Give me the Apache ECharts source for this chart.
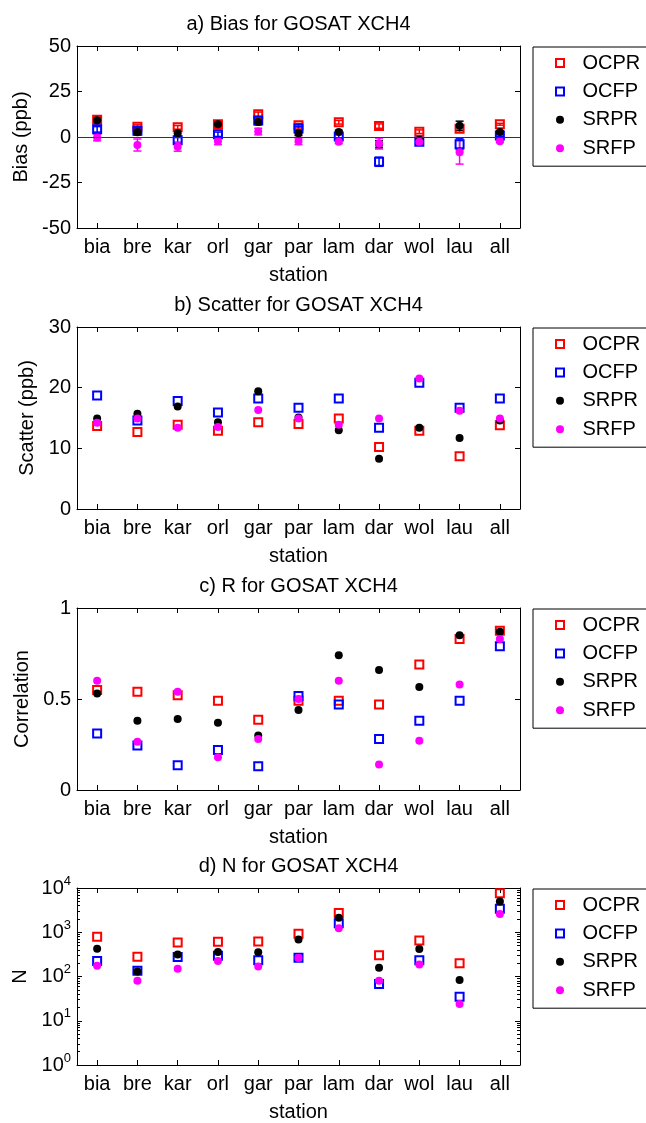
<!DOCTYPE html>
<html>
<head>
<meta charset="utf-8">
<script src="https://cdn.jsdelivr.net/npm/echarts@6/dist/echarts.min.js"></script>
<style>
html,body{margin:0;padding:0;background:#fff;}
#chart{width:646px;height:1123px;}
</style>
</head>
<body>
<div id="chart"></div>
<script>
// ---- data ----
const stations = ['bia','bre','kar','orl','gar','par','lam','dar','wol','lau','all'];
const seriesNames = ['OCPR','OCFP','SRPR','SRFP'];

// a) Bias (ppb)
const biasOCPR = [9.5, 5.7, 5.3, 7.0, 12.5, 6.4, 8.1, 6.0, 2.9, 4.6, 7.0];
const biasOCFP = [4.2, 3.5, -1.8, 1.5, 9.0, 4.7, 0.3, -13.6, -2.6, -4.0, 0.8];
const biasSRPR = [9.2, 2.6, 2.0, 7.0, 8.2, 2.0, 2.7, -4.0, -1.5, 6.2, 2.8];
const biasSRFP = [-0.3, -4.4, -5.3, -2.4, 3.0, -2.4, -2.6, -3.6, -2.6, -8.4, -2.4];
const errOCPR = [1.2, 1.0, 1.0, 1.0, 1.2, 1.0, 1.0, 1.2, 1.0, 2.0, 0.5];
const errOCFP = [1.5, 1.5, 1.5, 1.2, 1.5, 1.2, 1.0, 2.5, 1.2, 3.0, 0.5];
const errSRPR = [1.5, 1.5, 1.5, 1.2, 1.5, 1.2, 1.0, 2.0, 1.2, 2.5, 0.5];
const errSRFP = [1.8, 3.3, 2.5, 1.8, 1.8, 1.8, 1.0, 3.0, 1.5, 6.5, 0.6];

// b) Scatter (ppb)
const scatOCPR = [13.7, 12.7, 13.9, 12.9, 14.3, 14.0, 14.9, 10.2, 12.9, 8.7, 13.8];
const scatOCFP = [18.7, 14.6, 17.8, 15.9, 18.2, 16.7, 18.2, 13.4, 20.8, 16.7, 18.2];
const scatSRPR = [14.9, 15.7, 16.9, 14.3, 19.4, 15.1, 13.0, 8.3, 13.4, 11.7, 14.6];
const scatSRFP = [14.2, 14.9, 13.4, 13.5, 16.3, 14.9, 13.9, 14.9, 21.5, 16.2, 14.9];

// c) Correlation
const corOCPR = [0.55, 0.54, 0.52, 0.49, 0.386, 0.49, 0.49, 0.47, 0.69, 0.83, 0.875];
const corOCFP = [0.31, 0.245, 0.136, 0.22, 0.13, 0.517, 0.47, 0.28, 0.38, 0.49, 0.79];
const corSRPR = [0.53, 0.38, 0.39, 0.37, 0.30, 0.44, 0.74, 0.66, 0.566, 0.85, 0.87];
const corSRFP = [0.60, 0.265, 0.54, 0.18, 0.28, 0.50, 0.60, 0.14, 0.27, 0.58, 0.83];

// d) N
const nOCPR = [795, 280, 585, 607, 620, 930, 2740, 303, 648, 200, 7600];
const nOCFP = [224, 135, 275, 295, 233, 266, 1590, 68, 233, 35, 3390];
const nSRPR = [426, 129, 316, 360, 355, 686, 2130, 158, 420, 83, 4950];
const nSRFP = [174, 80, 150, 224, 169, 262, 1230, 80, 186, 24, 2600];

const logTicks = ['10^0','10^1','10^2','10^3','10^4'];

const panelTitles = ['a) Bias for GOSAT XCH4','b) Scatter for GOSAT XCH4','c) R for GOSAT XCH4','d) N for GOSAT XCH4'];
const yNames = ['Bias (ppb)','Scatter (ppb)','Correlation','N'];
const xName = 'station';

// ---- styling ----
const FONT = 'Liberation Sans, Arial, Helvetica, sans-serif';
const colors = {OCPR:'#ff0000', OCFP:'#0000ff', SRPR:'#000000', SRFP:'#ff00ff'};
const gridTops = [46, 327, 608, 888];
const GRID_LEFT = 77, GRID_W = 443, GRID_H = 182;
const SQUARE_ICON = 'path://M0,0L10,0L10,10L0,10Z';

const panelData = [
  [biasOCPR, biasOCFP, biasSRPR, biasSRFP],
  [scatOCPR, scatOCFP, scatSRPR, scatSRFP],
  [corOCPR, corOCFP, corSRPR, corSRFP],
  [nOCPR, nOCFP, nSRPR, nSRFP]
];
const biasErr = [errOCPR, errOCFP, errSRPR, errSRFP];
const yRanges = [
  {type:'value', min:-50, max:50, interval:25},
  {type:'value', min:0, max:30, interval:10},
  {type:'value', min:0, max:1, interval:0.5},
  {type:'log', min:1, max:10000, logBase:10}
];

const grids = [], xAxes = [], yAxes = [], series = [], titles = [], legends = [];

function symbolFor(name){
  const c = colors[name];
  if (name.startsWith('OC')) {
    return {symbol:'rect', symbolSize:8, itemStyle:{color:'rgba(0,0,0,0)', borderColor:c, borderWidth:2, opacity:1}};
  }
  return {symbol:'circle', symbolSize:8, itemStyle:{color:c, borderColor:c, borderWidth:0, opacity:1}};
}

for (let g = 0; g < 4; g++) {
  grids.push({left:GRID_LEFT, top:gridTops[g], width:GRID_W, height:GRID_H, show:false, containLabel:false});
  titles.push({
    text: panelTitles[g], left: GRID_LEFT + GRID_W/2, top: gridTops[g] - 33, textAlign:'center',
    padding:0,
    textStyle:{fontFamily:FONT, fontSize:20, fontWeight:'normal', color:'#000', lineHeight:22}
  });
  xAxes.push({
    type:'category', gridIndex:g, data:stations, position:'bottom', boundaryGap:true,
    name:xName, nameLocation:'middle', nameGap:37,
    nameTextStyle:{fontFamily:FONT, fontSize:20, color:'#000'},
    axisLine:{show:true, onZero:false, lineStyle:{color:'#000', width:1}},
    axisTick:{show:true, inside:true, alignWithLabel:true, length:5, lineStyle:{color:'#000'}},
    axisLabel:{show:true, margin:9, fontFamily:FONT, fontSize:20, color:'#000', interval:0},
    splitLine:{show:false}
  });
  xAxes.push({
    type:'category', gridIndex:g, data:stations, position:'top', boundaryGap:true,
    axisLine:{show:true, onZero:false, lineStyle:{color:'#000', width:1}},
    axisTick:{show:true, inside:true, alignWithLabel:true, length:5, lineStyle:{color:'#000'}},
    axisLabel:{show:false}, splitLine:{show:false}
  });
  const yr = yRanges[g];
  const isLog = yr.type === 'log';
  const labelCfg = {show:true, margin:6, fontFamily:FONT, fontSize:20, color:'#000'};
  if (isLog) {
    labelCfg.formatter = function(v){
      const e = Math.round(Math.log10(v));
      const t = logTicks[e].split('^');
      return '{b|' + t[0] + '}{s|' + t[1] + '}';
    };
    labelCfg.rich = {
      b:{fontFamily:FONT, fontSize:20, color:'#000'},
      s:{fontFamily:FONT, fontSize:13, color:'#000', padding:[0,0,14,0]}
    };
  }
  const minor = isLog ? {show:true, splitNumber:9, length:3, lineStyle:{color:'#000'}} : {show:false};
  yAxes.push(Object.assign({}, yr, {
    gridIndex:g, position:'left',
    name:yNames[g], nameLocation:'middle', nameGap:39, nameRotate:90,
    nameTextStyle:{fontFamily:FONT, fontSize:20, color:'#000'},
    axisLine:{show:true, onZero:false, lineStyle:{color:'#000', width:1}},
    axisTick:{show:true, inside:true, length:5, lineStyle:{color:'#000'}},
    minorTick: minor,
    axisLabel:labelCfg, splitLine:{show:false}, minorSplitLine:{show:false}
  }));
  yAxes.push(Object.assign({}, yr, {
    gridIndex:g, position:'right',
    axisLine:{show:true, onZero:false, lineStyle:{color:'#000', width:1}},
    axisTick:{show:true, inside:true, length:5, lineStyle:{color:'#000'}},
    minorTick: minor,
    axisLabel:{show:false}, splitLine:{show:false}, minorSplitLine:{show:false}
  }));

  legends.push({
    data: seriesNames.map(function(n){
      return n.startsWith('OC') ? {name:n, icon:SQUARE_ICON} : {name:n};
    }),
    orient:'vertical', left:533, top:gridTops[g] + 1,
    itemWidth:35, itemHeight:8, itemGap:8.4, symbolKeepAspect:true,
    padding:[6, 30, 8, 22],
    borderColor:'#000', borderWidth:1, backgroundColor:'#fff',
    textStyle:{fontFamily:FONT, fontSize:20, color:'#000', lineHeight:20},
    selectedMode:false
  });

  for (let s = 0; s < 4; s++) {
    const name = seriesNames[s];
    const vals = panelData[g][s];
    if (g === 0) {
      const errs = biasErr[s];
      series.push({
        type:'custom', name: name + ' error', xAxisIndex:0, yAxisIndex:0, silent:true, z:2,
        data: vals.map(function(v, i){ return [i, v, errs[i]]; }),
        renderItem: function(params, api){
          const x = api.value(0), y = api.value(1), e = api.value(2);
          const hi = api.coord([x, y + e]);
          const lo = api.coord([x, y - e]);
          const hw = 4;
          const st = {stroke: colors[name], lineWidth: 1.5};
          return {type:'group', children:[
            {type:'line', shape:{x1:hi[0], y1:hi[1], x2:lo[0], y2:lo[1]}, style:st},
            {type:'line', shape:{x1:hi[0]-hw, y1:hi[1], x2:hi[0]+hw, y2:hi[1]}, style:st},
            {type:'line', shape:{x1:lo[0]-hw, y1:lo[1], x2:lo[0]+hw, y2:lo[1]}, style:st}
          ]};
        }
      });
    }
    const sym = symbolFor(name);
    const ser = {
      type:'scatter', name:name, xAxisIndex:2*g, yAxisIndex:2*g,
      data: vals, symbol:sym.symbol, symbolSize:sym.symbolSize, itemStyle:sym.itemStyle,
      z:3, silent:true, emphasis:{disabled:true}
    };
    if (g === 0 && s === 0) {
      ser.markLine = {
        silent:true, symbol:['none','none'], label:{show:false},
        lineStyle:{color:'#333', type:'solid', width:1.2},
        data:[{yAxis:0}]
      };
    }
    series.push(ser);
  }
}

const chart = echarts.init(document.getElementById('chart'), null, {renderer:'canvas'});
chart.setOption({
  animation:false,
  backgroundColor:'#fff',
  textStyle:{fontFamily:FONT},
  title:titles, grid:grids, xAxis:xAxes, yAxis:yAxes, legend:legends, series:series
});
</script>
</body>
</html>
